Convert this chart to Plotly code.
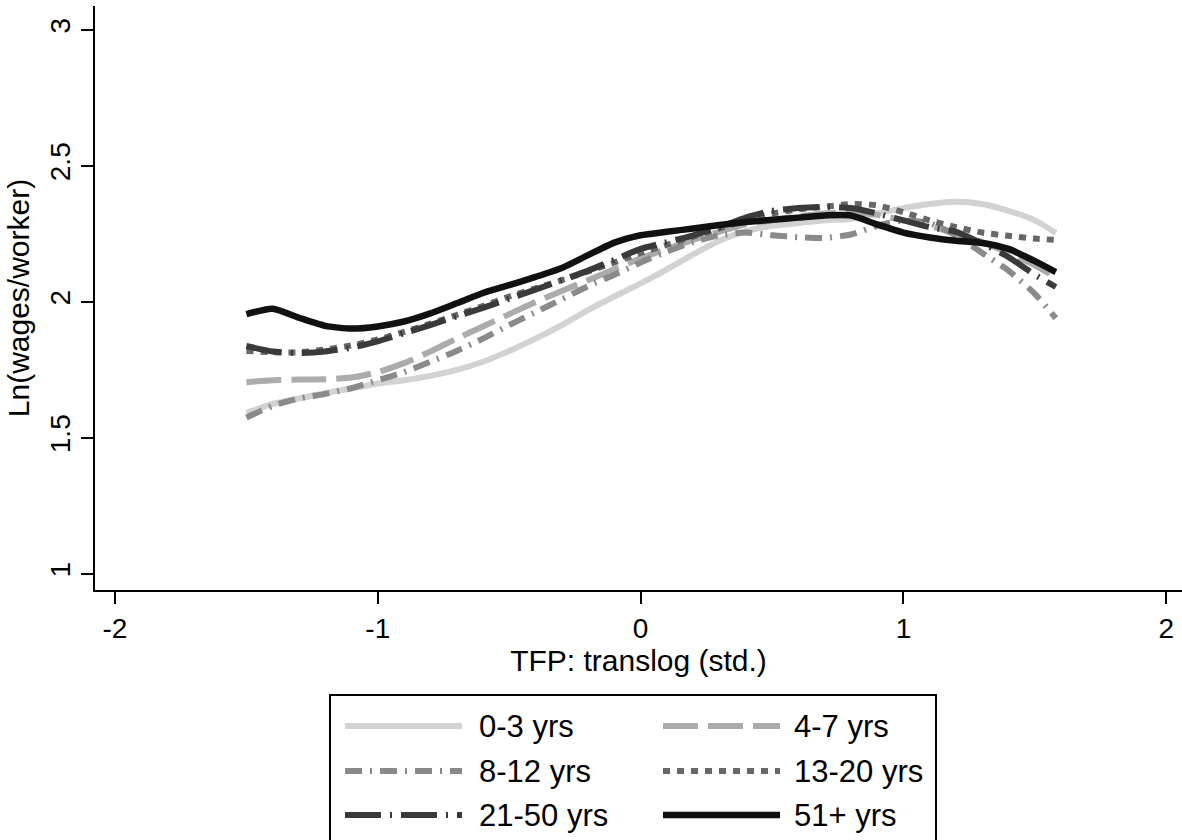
import plotly.graph_objects as go

# ---- data ----
tfp = [-1.5, -1.4, -1.3, -1.2, -1.1, -1.0, -0.9, -0.8, -0.7, -0.6, -0.5, -0.4, -0.3, -0.2, -0.1,
       0.0, 0.1, 0.2, 0.3, 0.4, 0.5, 0.6, 0.7, 0.8, 0.9, 1.0, 1.1, 1.2, 1.3, 1.4, 1.5, 1.58]

age_0_3 = [1.592, 1.625, 1.645, 1.665, 1.682, 1.700, 1.712, 1.728, 1.750, 1.780, 1.820, 1.865, 1.915, 1.970, 2.020,
           2.068, 2.120, 2.175, 2.225, 2.260, 2.280, 2.290, 2.300, 2.305, 2.325, 2.345, 2.360, 2.368, 2.360, 2.335, 2.300, 2.254]
age_4_7 = [1.705, 1.712, 1.715, 1.716, 1.722, 1.742, 1.775, 1.818, 1.865, 1.910, 1.955, 2.000, 2.040, 2.080, 2.120,
           2.160, 2.195, 2.228, 2.258, 2.285, 2.300, 2.315, 2.325, 2.330, 2.320, 2.300, 2.280, 2.250, 2.220, 2.180, 2.135, 2.090]
age_8_12 = [1.575, 1.618, 1.645, 1.662, 1.683, 1.712, 1.742, 1.780, 1.820, 1.865, 1.915, 1.962, 2.010, 2.058, 2.100,
            2.145, 2.185, 2.220, 2.245, 2.255, 2.245, 2.238, 2.235, 2.248, 2.280, 2.300, 2.290, 2.245, 2.180, 2.115, 2.030, 1.940]
age_13_20 = [1.820, 1.815, 1.815, 1.825, 1.840, 1.862, 1.890, 1.920, 1.952, 1.985, 2.020, 2.050, 2.080, 2.112, 2.145,
             2.180, 2.210, 2.240, 2.270, 2.300, 2.325, 2.340, 2.350, 2.360, 2.355, 2.330, 2.300, 2.275, 2.255, 2.243, 2.233, 2.228]
age_21_50 = [1.838, 1.818, 1.812, 1.818, 1.832, 1.855, 1.885, 1.915, 1.947, 1.978, 2.012, 2.045, 2.080, 2.115, 2.155,
             2.195, 2.220, 2.245, 2.275, 2.310, 2.335, 2.345, 2.350, 2.345, 2.325, 2.300, 2.275, 2.258, 2.215, 2.165, 2.100, 2.055]
age_51p = [1.955, 1.975, 1.942, 1.912, 1.902, 1.910, 1.928, 1.958, 1.995, 2.033, 2.062, 2.092, 2.125, 2.172, 2.218,
           2.245, 2.258, 2.270, 2.283, 2.294, 2.302, 2.310, 2.318, 2.318, 2.285, 2.255, 2.237, 2.225, 2.217, 2.195, 2.150, 2.110]

series_names = ["0-3 yrs", "4-7 yrs", "8-12 yrs", "13-20 yrs", "21-50 yrs", "51+ yrs"]
series_values = [age_0_3, age_4_7, age_8_12, age_13_20, age_21_50, age_51p]

x_ticks = [-2, -1, 0, 1, 2]
x_tick_labels = ["-2", "-1", "0", "1", "2"]
y_ticks = [1, 1.5, 2, 2.5, 3]
y_tick_labels = ["1", "1.5", "2", "2.5", "3"]

# ---- styles ----
colors = ["#d2d2d2", "#ababab", "#8a8a8a", "#676767", "#3a3a3a", "#111111"]
dashes = ["solid", "35px,10px", "17px,8px,2px,8px", "7px,7px", "36px,9px,2px,9px", "solid"]
widths = [6, 6, 6, 6, 6, 6.5]

FONT = "Liberation Sans, Arial, Helvetica, sans-serif"

fig = go.Figure()
for name, vals, c, d, w in zip(series_names, series_values, colors, dashes, widths):
    fig.add_trace(go.Scatter(
        x=tfp, y=vals, mode="lines", name=name, showlegend=False,
        line=dict(color=c, width=w, dash=d, shape="spline", smoothing=0.6),
    ))

# ---- layout geometry ----
W, H = 1182, 840
ML, MR, MT, MB = 95, 0, 6, 250
PW, PH = W - ML - MR, H - MT - MB


def px_x(px):
    return (px - ML) / PW


def px_y(py):
    return (H - MB - py) / PH


shapes = []
annotations = []

# custom legend box (Stata-style)
shapes.append(dict(type="rect", xref="paper", yref="paper",
                   x0=px_x(330), x1=px_x(936), y0=px_y(860), y1=px_y(695),
                   line=dict(color="black", width=2), fillcolor="rgba(0,0,0,0)"))
row_y = [726, 771, 815]
col_line = [(345, 462), (663, 780)]
col_text = [477, 792]
for i, name in enumerate(series_names):
    r, c = divmod(i, 2)
    shapes.append(dict(type="line", xref="paper", yref="paper",
                       x0=px_x(col_line[c][0]), x1=px_x(col_line[c][1]),
                       y0=px_y(row_y[r]), y1=px_y(row_y[r]),
                       line=dict(color=colors[i], width=widths[i], dash=dashes[i])))
    annotations.append(dict(text=name, xref="paper", yref="paper",
                            x=px_x(col_text[c]), y=px_y(row_y[r]),
                            xanchor="left", yanchor="middle", showarrow=False,
                            font=dict(family=FONT, size=31, color="black")))

fig.update_layout(
    width=W, height=H, autosize=False,
    margin=dict(l=ML, r=MR, t=MT, b=MB, pad=0),
    paper_bgcolor="white", plot_bgcolor="white",
    font=dict(family=FONT, size=28, color="black"),
    showlegend=False,
    shapes=shapes, annotations=annotations,
    xaxis=dict(
        range=[-2.076, 2.06], tickmode="array", tickvals=x_ticks, ticktext=x_tick_labels,
        ticks="outside", ticklen=12, tickwidth=2, tickcolor="black",
        showline=True, linewidth=2, linecolor="black", mirror=False,
        showgrid=False, zeroline=False, automargin=False,
        tickfont=dict(family=FONT, size=28, color="black"),
        title=dict(text="TFP: translog (std.)", font=dict(family=FONT, size=30, color="black"), standoff=6),
    ),
    yaxis=dict(
        range=[0.941, 3.088], tickmode="array", tickvals=y_ticks, ticktext=y_tick_labels,
        tickangle=-90,
        ticks="outside", ticklen=12, tickwidth=2, tickcolor="black",
        showline=True, linewidth=2, linecolor="black", mirror=False,
        showgrid=False, zeroline=False, automargin=False,
        tickfont=dict(family=FONT, size=28, color="black"),
        title=dict(text="Ln(wages/worker)", font=dict(family=FONT, size=30, color="black"), standoff=6),
    ),
)

fig.write_html("out.html")
